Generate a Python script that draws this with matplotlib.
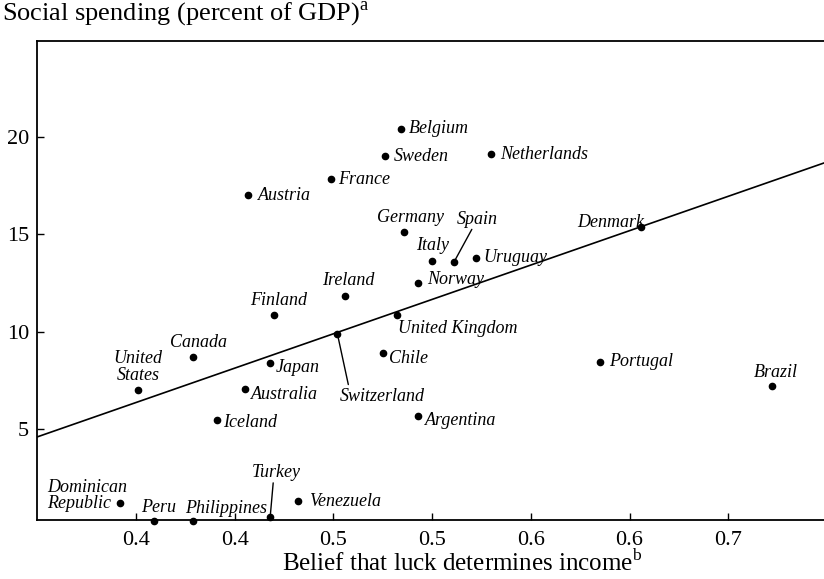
import matplotlib
matplotlib.use("Agg")
import matplotlib.pyplot as plt
from matplotlib.ticker import FixedLocator, FixedFormatter


# belief that luck determines income vs social spending (% of GDP)
countries = ["Belgium", "Sweden", "Netherlands", "France", "Austria", "Germany",
             "Italy", "Spain", "Uruguay", "Norway", "Ireland", "Finland",
             "United Kingdom", "Switzerland", "Canada", "Japan", "Chile",
             "United\nStates", "Australia", "Iceland", "Argentina", "Portugal",
             "Brazil", "Denmark", "Dominican\nRepublic", "Peru", "Philippines",
             "Turkey", "Venezuela"]
luck = [0.484, 0.476, 0.530, 0.449, 0.407, 0.486,
        0.500, 0.511, 0.522, 0.493, 0.456, 0.420,
        0.482, 0.452, 0.379, 0.418, 0.475,
        0.351, 0.405, 0.391, 0.493, 0.585,
        0.672, 0.606, 0.342, 0.359, 0.379,
        0.418, 0.432]
spending = [20.4, 19.0, 19.1, 17.8, 17.0, 15.1,
            13.6, 13.55, 13.75, 12.5, 11.85, 10.85,
            10.85, 9.9, 8.7, 8.4, 8.9,
            7.0, 7.05, 5.45, 5.65, 8.45,
            7.2, 15.35, 1.2, 0.3, 0.3,
            0.5, 1.3]

# fitted line end points
fit_x = [0.30, 0.70]
fit_y = [4.6, 18.7]

x_ticks = [0.35, 0.40, 0.45, 0.50, 0.55, 0.60, 0.65]
x_tick_labels = ["0.4", "0.4", "0.5", "0.5", "0.6", "0.6", "0.7"]
y_ticks = [5, 10, 15, 20]

# label placement: (dx, dy) in pixels, ha, va, leader line
label_pos = {
    "Belgium": (8, 0, "left", "center", False),
    "Sweden": (9, 0, "left", "center", False),
    "Netherlands": (9, 0, "left", "center", False),
    "France": (7, 0, "left", "center", False),
    "Austria": (10, 0, "left", "center", False),
    "Germany": (6, 15, "center", "center", False),
    "Italy": (0, 16, "center", "center", False),
    "Spain": (23, 43, "center", "center", True),
    "Uruguay": (8, 1, "left", "center", False),
    "Norway": (9, 3, "left", "center", False),
    "Ireland": (3, 15, "center", "center", False),
    "Finland": (4, 15, "center", "center", False),
    "United Kingdom": (1, -13, "left", "center", False),
    "Switzerland": (2, -63, "left", "center", True),
    "Canada": (5, 14, "center", "center", False),
    "Japan": (6, -5, "left", "center", False),
    "Chile": (6, -5, "left", "center", False),
    "United\nStates": (0, 23, "center", "center", False),
    "Australia": (6, -5, "left", "center", False),
    "Iceland": (6, -2, "left", "center", False),
    "Argentina": (7, -4, "left", "center", False),
    "Portugal": (9, 0, "left", "center", False),
    "Brazil": (4, 14, "center", "center", False),
    "Denmark": (3, 5, "right", "center", False),
    "Dominican\nRepublic": (-73, 8, "left", "center", False),
    "Peru": (-13, 13, "left", "center", False),
    "Philippines": (-8, 12, "left", "center", False),
    "Turkey": (6, 44, "center", "center", True),
    "Venezuela": (11, 0, "left", "center", False),
}
leader_end = {"Spain": (18, 33), "Switzerland": (11, -51), "Turkey": (3, 34)}

plt.rcParams["font.family"] = ["Liberation Serif", "DejaVu Serif"]
plt.rcParams["mathtext.fontset"] = "custom"
plt.rcParams["mathtext.rm"] = "Liberation Serif"

W, H = 824, 579
fig = plt.figure(figsize=(W / 100, H / 100), dpi=100)
ax = fig.add_axes([37.2 / W, (H - 520) / H, (827 - 37.2) / W, (520 - 41) / H])

ax.plot(fit_x, fit_y, color="black", lw=1.2)
ax.plot(luck, spending, "o", color="black", ms=4.5, clip_on=False, zorder=3)

for c, x, y in zip(countries, luck, spending):
    dx, dy, ha, va, lead = label_pos[c]
    ax.annotate(c, (x, y), xytext=(dx, dy), textcoords="offset pixels",
                ha=ha, va=va, fontsize=13, style="italic", linespacing=0.95,
                annotation_clip=False)
    if lead:
        ex, ey = leader_end[c]
        ax.annotate("", (x, y), xytext=(ex, ey), textcoords="offset pixels",
                    annotation_clip=False,
                    arrowprops=dict(arrowstyle="-", color="black", lw=1.0,
                                    shrinkA=0, shrinkB=0))

ax.set_xlim(0.30, 0.70)
ax.set_ylim(0.34, 24.9)
ax.xaxis.set_major_locator(FixedLocator(x_ticks))
ax.xaxis.set_major_formatter(FixedFormatter(x_tick_labels))
ax.set_yticks(y_ticks)
ax.tick_params(direction="in", length=5, width=1.0, labelsize=16, pad=6)
ax.tick_params(axis="x", pad=8)
ax.spines["right"].set_visible(False)
for s in ["left", "top", "bottom"]:
    ax.spines[s].set_linewidth(1.3)

fig.text(462 / W, 1 - 563 / H, r"Belief that luck determines income$^{\mathrm{b}}$",
         ha="center", va="center", fontsize=18)
fig.text(2 / W, 1 - 14 / H, r"Social spending (percent of GDP)$^{\mathrm{a}}$",
         ha="left", va="center", fontsize=19)

fig.savefig("out.png", dpi=100)
